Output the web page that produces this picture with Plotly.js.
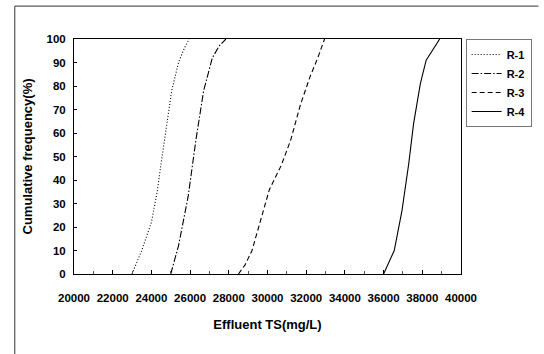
<!DOCTYPE html>
<html>
<head>
<meta charset="utf-8">
<script src="https://cdn.plot.ly/plotly-3.0.1.min.js"></script>
<style>
html,body{margin:0;padding:0;background:#fff;}
#chart{width:544px;height:354px;}
</style>
</head>
<body>
<div id="chart"></div>
<script>
// Cumulative frequency curves (x: effluent TS mg/L, y: cumulative frequency %)
const seriesNames = ["R-1", "R-2", "R-3", "R-4"];

const r1X = [23000, 23500, 24000, 24300, 24500, 24800, 25050, 25400, 25700, 25950];
const r1Y = [0, 10, 22, 35, 47, 65, 78, 90, 96, 100];

const r2X = [25000, 25400, 25900, 26300, 26700, 27150, 27500, 27850];
const r2Y = [0, 12, 33, 57, 78, 92, 97, 100];

const r3X = [28500, 28850, 29200, 29700, 30100, 30400, 30700, 31200, 31700, 32200, 32600, 32950];
const r3Y = [0, 4, 10, 24, 36, 41, 46, 57, 72, 84, 92, 100];

const r4X = [36000, 36550, 36950, 37300, 37550, 37900, 38200, 38500, 38900];
const r4Y = [0, 10, 27, 47, 64, 81, 91, 95, 100];

const xTickVals = [20000, 22000, 24000, 26000, 28000, 30000, 32000, 34000, 36000, 38000, 40000];
const yTickVals = [0, 10, 20, 30, 40, 50, 60, 70, 80, 90, 100];

const dashes = ["1px,2px", "7px,2px,1.5px,2px", "5px,3px", "solid"];
const xs = [r1X, r2X, r3X, r4X];
const ys = [r1Y, r2Y, r3Y, r4Y];

const traces = seriesNames.map((n, i) => ({
  x: xs[i], y: ys[i], name: n, type: "scatter", mode: "lines",
  line: {color: "#000", width: 1.1, dash: dashes[i]}
}));

const fontFam = "Liberation Sans, Arial, sans-serif";
const layout = {
  width: 544, height: 354,
  margin: {l: 74, r: 72, t: 39, b: 80},
  paper_bgcolor: "#fff", plot_bgcolor: "#fff",
  font: {family: fontFam, color: "#000"},
  showlegend: true,
  legend: {
    x: 1.012, y: 1.0, xanchor: "left", yanchor: "top",
    bordercolor: "#777", borderwidth: 1, bgcolor: "#fff",
    font: {family: fontFam, size: 11, weight: "bold", color: "#000"},
    tracegroupgap: 0
  },
  xaxis: {
    range: [20000, 40000], tickvals: xTickVals, ticktext: xTickVals.map(String),
    ticks: "inside", ticklen: 4, tickcolor: "#000",
    minor: {dtick: 1000, tick0: 20000, ticks: "inside", ticklen: 3, tickcolor: "#555"},
    showgrid: false, zeroline: false,
    showline: true, linecolor: "#000", linewidth: 1, mirror: true,
    tickfont: {family: fontFam, size: 11.5, weight: "bold"},
    ticklabelstandoff: 13,
    title: {text: "Effluent TS(mg/L)", font: {family: fontFam, size: 13, weight: "bold"}, standoff: 17}
  },
  yaxis: {
    range: [0, 100], tickvals: yTickVals, ticktext: yTickVals.map(String),
    ticks: "inside", ticklen: 3, tickcolor: "#000",
    showgrid: false, zeroline: false,
    showline: true, linecolor: "#000", linewidth: 1, mirror: true,
    tickfont: {family: fontFam, size: 11.5, weight: "bold"},
    ticklabelstandoff: 5,
    title: {text: "Cumulative frequency(%)", font: {family: fontFam, size: 13, weight: "bold"}, standoff: 10}
  },
  shapes: [
    {type: "line", xref: "paper", yref: "paper", x0: -0.153, x1: 1.2, y0: 1.14, y1: 1.14, line: {color: "#333", width: 1}},
    {type: "line", xref: "paper", yref: "paper", x0: -0.153, x1: -0.153, y0: 1.14, y1: -0.4, line: {color: "#333", width: 1}}
  ]
};

Plotly.newPlot("chart", traces, layout, {displayModeBar: false, staticPlot: true});
</script>
</body>
</html>
